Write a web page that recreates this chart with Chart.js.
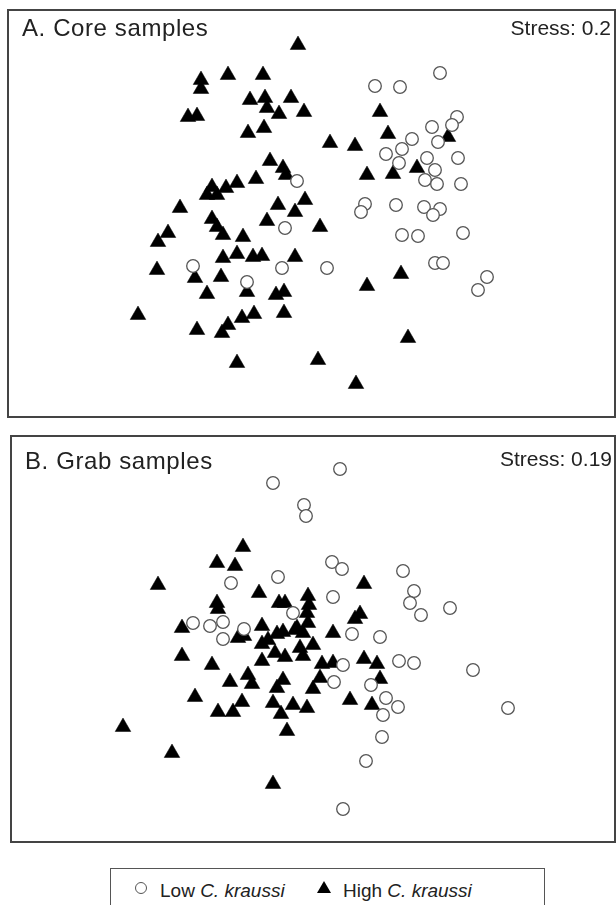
<!DOCTYPE html>
<html>
<head>
<meta charset="utf-8">
<title>nMDS C. kraussi</title>
<script src="https://cdn.jsdelivr.net/npm/chart.js@4"></script>
<style>
    body { margin: 0; background: #fff; font-family: "Liberation Sans", Arial, sans-serif; color: #222; }
    .panel { position: absolute; border: 2px solid #444; box-sizing: border-box; }
    .panel canvas { display: block; }
    .txt { position: absolute; white-space: nowrap; }
    .title { font-size: 24px; line-height: 24px; letter-spacing: 0.6px; }
    .stress { font-size: 21px; line-height: 21px; text-align: right; }
    #legend { position: absolute; left: 110px; top: 868px; width: 435px; height: 50px; border: 1.5px solid #555; box-sizing: border-box; }
    .leg { font-size: 19px; line-height: 19px; }
    .sym-circle { position: absolute; width: 12px; height: 12px; border: 1.3px solid #555; border-radius: 50%; box-sizing: border-box; }
    .sym-tri { position: absolute; width: 0; height: 0; border-left: 7px solid transparent; border-right: 7px solid transparent; border-bottom: 12px solid #000; }
</style>
</head>
<body>
<div class="panel" id="panelA" style="left:7px; top:9px; width:609px; height:409px;">
    <canvas id="chartA" width="605" height="405"></canvas>
</div>
<div class="txt title" id="titleA" style="left:22px; top:16px;"></div>
<div class="txt stress" id="stressA" style="right:5px; top:17px;"></div>

<div class="panel" id="panelB" style="left:10px; top:435px; width:606px; height:408px;">
    <canvas id="chartB" width="602" height="404"></canvas>
</div>
<div class="txt title" id="titleB" style="left:25px; top:449px;"></div>
<div class="txt stress" id="stressB" style="right:4px; top:448px;"></div>

<div id="legend"></div>
<div class="sym-circle" style="left:135px; top:882px;"></div>
<div class="txt leg" id="legLow" style="left:160px; top:881px;"></div>
<div class="sym-tri" style="left:317px; top:881px;"></div>
<div class="txt leg" id="legHigh" style="left:343px; top:881px;"></div>

<script>
// nMDS ordination scores (axis 1, axis 2)
const panelTitles = ['A. Core samples', 'B. Grab samples'];
const stressValues = ['0.2', '0.19'];
const groupNames = ['Low', 'High'];
const speciesName = 'C. kraussi';

const coreLow = [
    [1.28, 1.40], [0.63, 1.27], [0.88, 1.26], [1.45, 0.96], [1.40, 0.88], [1.20, 0.86],
    [1.00, 0.74], [1.26, 0.71], [0.90, 0.64], [0.74, 0.59], [0.87, 0.50], [1.15, 0.55],
    [1.46, 0.55], [1.23, 0.43], [1.13, 0.33], [1.25, 0.29], [1.49, 0.29], [-0.15, 0.32],
    [0.53, 0.09], [0.49, 0.01], [0.84, 0.08], [1.12, 0.06], [1.28, 0.04], [1.21, -0.02],
    [0.90, -0.22], [1.06, -0.23], [1.51, -0.20], [0.15, -0.55], [1.23, -0.50], [1.31, -0.50],
    [1.75, -0.64], [1.66, -0.77], [-0.27, -0.15], [-1.19, -0.53], [-0.30, -0.55], [-0.65, -0.69]
];

const coreHigh = [
    [-0.14, 1.68], [-0.84, 1.38], [-0.49, 1.38], [-1.11, 1.33], [-1.11, 1.24], [-0.62, 1.13],
    [-0.47, 1.15], [-0.21, 1.15], [-0.45, 1.05], [-0.33, 0.99], [-0.08, 1.01], [-1.24, 0.96],
    [-1.15, 0.97], [-0.64, 0.80], [-0.48, 0.85], [-0.42, 0.52], [-0.29, 0.45], [-0.26, 0.38],
    [-0.56, 0.34], [-0.75, 0.30], [-0.86, 0.25], [-1.00, 0.26], [-1.05, 0.18], [-0.95, 0.18],
    [-0.07, 0.13], [-0.34, 0.08], [-1.32, 0.05], [-0.17, 0.01], [-0.45, -0.08], [-1.00, -0.06],
    [-0.95, -0.14], [-0.89, -0.22], [-0.69, -0.24], [-1.44, -0.20], [-1.54, -0.29], [0.08, -0.14],
    [-0.89, -0.45], [-0.75, -0.41], [-0.59, -0.44], [-0.50, -0.43], [-0.17, -0.44], [-1.55, -0.57],
    [-1.17, -0.65], [-0.91, -0.64], [-0.65, -0.79], [-0.36, -0.82], [-0.28, -0.79], [-1.05, -0.81],
    [-1.74, -1.02], [-1.15, -1.17], [-0.90, -1.20], [-0.84, -1.12], [-0.70, -1.05], [-0.58, -1.01],
    [-0.28, -1.00], [-0.75, -1.50], [0.06, -1.47], [0.18, 0.70], [0.43, 0.67], [0.68, 1.01],
    [0.76, 0.79], [0.55, 0.38], [0.81, 0.39], [1.05, 0.45], [1.36, 0.76], [0.89, -0.61],
    [0.55, -0.73], [0.96, -1.25], [0.44, -1.71]
];

const grabLow = [
    [-0.39, 1.57], [0.28, 1.71], [-0.08, 1.35], [-0.06, 1.24], [-0.34, 0.63], [-0.81, 0.57],
    [0.20, 0.78], [0.30, 0.71], [0.91, 0.69], [0.21, 0.43], [1.02, 0.49], [0.98, 0.37],
    [1.09, 0.25], [1.38, 0.32], [-0.19, 0.27], [-1.19, 0.17], [-1.02, 0.14], [-0.89, 0.18],
    [-0.89, 0.01], [-0.68, 0.11], [0.40, 0.06], [0.68, 0.03], [0.31, -0.25], [0.22, -0.42],
    [0.59, -0.45], [0.87, -0.21], [1.02, -0.23], [1.61, -0.30], [0.74, -0.58], [0.86, -0.67],
    [0.71, -0.75], [1.96, -0.68], [0.70, -0.97], [0.54, -1.21], [0.31, -1.69]
];

const grabHigh = [
    [-0.69, 0.93], [-0.95, 0.77], [-0.77, 0.74], [-1.54, 0.55], [-0.53, 0.47], [-0.95, 0.37],
    [-0.94, 0.31], [-0.33, 0.37], [-0.27, 0.37], [-0.04, 0.44], [-0.03, 0.35], [-0.05, 0.27],
    [-0.04, 0.17], [0.52, 0.56], [0.43, 0.21], [0.48, 0.26], [-1.30, 0.12], [-0.50, 0.14],
    [-0.15, 0.12], [-0.35, 0.06], [-0.74, 0.02], [-0.68, 0.04], [-0.50, -0.04], [-0.44, 0.00],
    [-0.29, 0.08], [-0.17, 0.10], [-0.09, 0.07], [0.21, 0.07], [0.01, -0.05], [-0.12, -0.08],
    [-0.09, -0.16], [-0.27, -0.17], [-0.37, -0.13], [-0.50, -0.21], [-1.30, -0.16], [-1.00, -0.25],
    [-0.82, -0.42], [-0.64, -0.35], [-0.60, -0.44], [-1.17, -0.57], [-0.94, -0.72], [-0.79, -0.72],
    [-0.70, -0.62], [-0.35, -0.48], [-0.29, -0.40], [-0.39, -0.63], [-0.31, -0.74], [-0.25, -0.91],
    [-0.19, -0.65], [-0.05, -0.68], [0.01, -0.49], [0.08, -0.38], [0.10, -0.24], [0.21, -0.23],
    [0.38, -0.60], [0.52, -0.19], [0.65, -0.24], [0.68, -0.39], [0.60, -0.65], [-1.89, -0.87],
    [-1.40, -1.13], [-0.39, -1.44]
];

function toPoints(pairs) {
    return pairs.map(function (p) { return { x: p[0], y: p[1] }; });
}

function makeChart(canvasId, low, high, xRange, yRange) {
    return new Chart(document.getElementById(canvasId), {
        type: 'scatter',
        data: {
            datasets: [
                {
                    label: groupNames[0] + ' ' + speciesName,
                    data: toPoints(low),
                    pointStyle: 'circle',
                    pointRadius: 6.3,
                    backgroundColor: '#fff',
                    borderColor: '#555',
                    borderWidth: 1.3,
                    order: 0
                },
                {
                    label: groupNames[1] + ' ' + speciesName,
                    data: toPoints(high),
                    pointStyle: 'triangle',
                    pointRadius: 9,
                    backgroundColor: '#000',
                    borderColor: '#000',
                    borderWidth: 0.5,
                    order: 1
                }
            ]
        },
        options: {
            responsive: false,
            animation: false,
            // keep the plot area the full canvas so the scales line up with the box
            layout: { padding: 0, autoPadding: false },
            scales: {
                x: { display: false, min: xRange[0], max: xRange[1] },
                y: { display: false, min: yRange[0], max: yRange[1] }
            },
            plugins: {
                legend: { display: false },
                tooltip: { enabled: false }
            }
        }
    });
}

document.addEventListener('DOMContentLoaded', function () {
    makeChart('chartA', coreLow, coreHigh, [-3.03, 3.02], [-2.03, 2.02]);
    makeChart('chartB', grabLow, grabHigh, [-3.00, 3.02], [-2.01, 2.03]);

    document.getElementById('titleA').textContent = panelTitles[0];
    document.getElementById('titleB').textContent = panelTitles[1];
    document.getElementById('stressA').textContent = 'Stress: ' + stressValues[0];
    document.getElementById('stressB').textContent = 'Stress: ' + stressValues[1];

    document.getElementById('legLow').innerHTML = groupNames[0] + ' <i>' + speciesName + '</i>';
    document.getElementById('legHigh').innerHTML = groupNames[1] + ' <i>' + speciesName + '</i>';
});
</script>
</body>
</html>
